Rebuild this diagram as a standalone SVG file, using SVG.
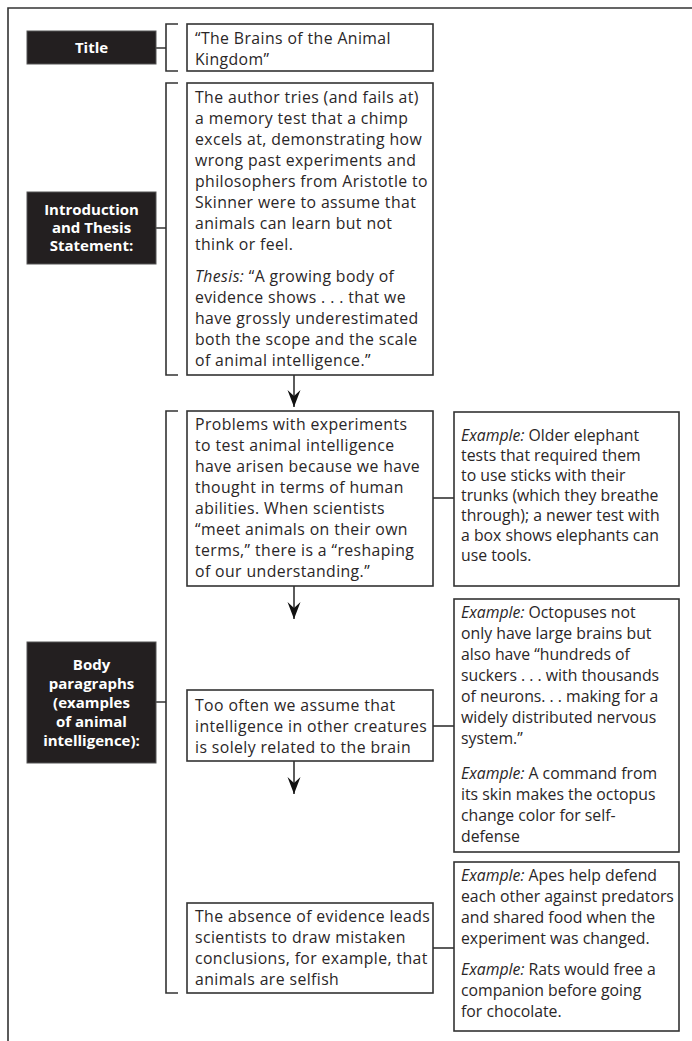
<svg xmlns="http://www.w3.org/2000/svg" width="692" height="1041" viewBox="0 0 692 1041">
<style>
.frame{fill:none;stroke:#333;stroke-width:1.6}
.box{fill:#fff;stroke:#333;stroke-width:1.6}
.lab{fill:#231f20;stroke:#555;stroke-width:1}
.lt{font-family:"Open Sans","Noto Sans",sans-serif;font-weight:bold;font-size:15px;fill:#fff;text-anchor:middle;letter-spacing:0px}
.t{font-family:"Open Sans","Noto Sans",sans-serif;font-size:15.8px;fill:#2a2627;letter-spacing:0.4px}
.e{letter-spacing:0px}
.i{font-style:italic}
.ln{fill:none;stroke:#333;stroke-width:1.6}
</style>
<defs>
<marker id="ah" markerUnits="userSpaceOnUse" markerWidth="20" markerHeight="16" viewBox="-17 -8 18 16" refX="0" refY="0" orient="auto">
<path d="M0,0 L-17,-6.5 L-11,0 L-17,6.5 Z" fill="#111"/>
</marker>
</defs>
<rect width="692" height="1041" fill="#fff"/>
<path class="frame" d="M8,1041 V8 H692"/>

<g id="connectors">
<path class="ln" d="M156,48 H166 M178,24 H166 V71 H178"/>
<path class="ln" d="M156,228 H166 M178,83 H166 V375 H178"/>
<path class="ln" d="M156,702 H166 M178,411 H166 V993 H178"/>
<path class="ln" d="M433,498 H454"/>
<path class="ln" d="M433,726 H454"/>
<path class="ln" d="M433,948 H454"/>
<path class="ln" d="M294,375 V407" stroke-width="1.2" marker-end="url(#ah)"/>
<path class="ln" d="M294,586 V619" stroke-width="1.2" marker-end="url(#ah)"/>
<path class="ln" d="M294,761 V794" stroke-width="1.2" marker-end="url(#ah)"/>
</g>

<g id="label-title">
<rect class="lab" x="27" y="31" width="129" height="33"/>
<text class="lt" x="91.5" y="53">Title</text>
</g>
<g id="label-intro">
<rect class="lab" x="27" y="192" width="129" height="72"/>
<text class="lt" x="91.5" y="215">Introduction</text>
<text class="lt" x="91.5" y="233">and Thesis</text>
<text class="lt" x="91.5" y="251">Statement:</text>
</g>
<g id="label-body">
<rect class="lab" x="27" y="642" width="129" height="121"/>
<text class="lt" x="91.5" y="670">Body</text>
<text class="lt" x="91.5" y="689">paragraphs</text>
<text class="lt" x="91.5" y="708">(examples</text>
<text class="lt" x="91.5" y="727">of animal</text>
<text class="lt" x="91.5" y="746">intelligence):</text>
</g>

<g id="box-title">
<rect class="box" x="187" y="24" width="246" height="47"/>
<text class="t" x="195" y="44">“The Brains of the Animal</text>
<text class="t" x="195" y="65">Kingdom”</text>
</g>

<g id="box-intro">
<rect class="box" x="187" y="83" width="246" height="292"/>
<text class="t" x="195" y="103">The author tries (and fails at)</text>
<text class="t" x="195" y="124">a memory test that a chimp</text>
<text class="t" x="195" y="145">excels at, demonstrating how</text>
<text class="t" x="195" y="166">wrong past experiments and</text>
<text class="t" x="195" y="187">philosophers from Aristotle to</text>
<text class="t" x="195" y="208">Skinner were to assume that</text>
<text class="t" x="195" y="229">animals can learn but not</text>
<text class="t" x="195" y="250">think or feel.</text>
<text class="t" x="195" y="282"><tspan class="i">Thesis:</tspan> “A growing body of</text>
<text class="t" x="195" y="303">evidence shows . . . that we</text>
<text class="t" x="195" y="324">have grossly underestimated</text>
<text class="t" x="195" y="345">both the scope and the scale</text>
<text class="t" x="195" y="366">of animal intelligence.”</text>
</g>

<g id="box-problems">
<rect class="box" x="187" y="411" width="246" height="175"/>
<text class="t" x="195" y="430">Problems with experiments</text>
<text class="t" x="195" y="451">to test animal intelligence</text>
<text class="t" x="195" y="472">have arisen because we have</text>
<text class="t" x="195" y="493">thought in terms of human</text>
<text class="t" x="195" y="514">abilities. When scientists</text>
<text class="t" x="195" y="535">“meet animals on their own</text>
<text class="t" x="195" y="556">terms,” there is a “reshaping</text>
<text class="t" x="195" y="577">of our understanding.”</text>
</g>

<g id="box-elephant">
<rect class="box" x="454" y="412" width="225" height="174"/>
<text class="t e" x="461" y="441"><tspan class="i">Example:</tspan> Older elephant</text>
<text class="t e" x="461" y="461">tests that required them</text>
<text class="t e" x="461" y="481">to use sticks with their</text>
<text class="t e" x="461" y="501">trunks (which they breathe</text>
<text class="t e" x="461" y="521">through); a newer test with</text>
<text class="t e" x="461" y="541">a box shows elephants can</text>
<text class="t e" x="461" y="561">use tools.</text>
</g>

<g id="box-octopus">
<rect class="box" x="454" y="599" width="225" height="253"/>
<text class="t e" x="461" y="618"><tspan class="i">Example:</tspan> Octopuses not</text>
<text class="t e" x="461" y="639">only have large brains but</text>
<text class="t e" x="461" y="660">also have “hundreds of</text>
<text class="t e" x="461" y="681">suckers . . . with thousands</text>
<text class="t e" x="461" y="702">of neurons. . . making for a</text>
<text class="t e" x="461" y="723">widely distributed nervous</text>
<text class="t e" x="461" y="744">system.”</text>
<text class="t e" x="461" y="779"><tspan class="i">Example:</tspan> A command from</text>
<text class="t e" x="461" y="800">its skin makes the octopus</text>
<text class="t e" x="461" y="821">change color for self-</text>
<text class="t e" x="461" y="842">defense</text>
</g>

<g id="box-toooften">
<rect class="box" x="187" y="690" width="246" height="71"/>
<text class="t" x="195" y="711">Too often we assume that</text>
<text class="t" x="195" y="732">intelligence in other creatures</text>
<text class="t" x="195" y="753">is solely related to the brain</text>
</g>

<g id="box-absence">
<rect class="box" x="187" y="903" width="246" height="90"/>
<text class="t" x="195" y="922">The absence of evidence leads</text>
<text class="t" x="195" y="943">scientists to draw mistaken</text>
<text class="t" x="195" y="964">conclusions, for example, that</text>
<text class="t" x="195" y="985">animals are selfish</text>
</g>

<g id="box-apes">
<rect class="box" x="454" y="862" width="225" height="169"/>
<text class="t e" x="461" y="881"><tspan class="i">Example:</tspan> Apes help defend</text>
<text class="t e" x="461" y="902">each other against predators</text>
<text class="t e" x="461" y="923">and shared food when the</text>
<text class="t e" x="461" y="944">experiment was changed.</text>
<text class="t e" x="461" y="975"><tspan class="i">Example:</tspan> Rats would free a</text>
<text class="t e" x="461" y="996">companion before going</text>
<text class="t e" x="461" y="1017">for chocolate.</text>
</g>
</svg>
